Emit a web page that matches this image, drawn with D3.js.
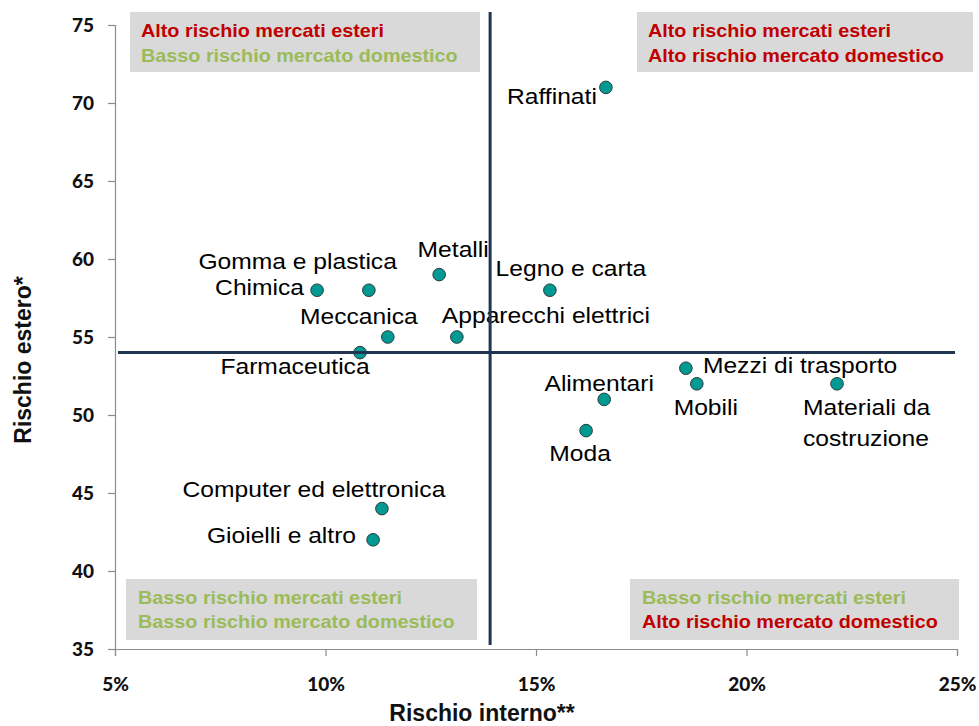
<!DOCTYPE html>
<html>
<head>
<meta charset="utf-8">
<script src="https://cdn.jsdelivr.net/npm/d3@7"></script>
<style>
  html, body { margin: 0; padding: 0; background: #ffffff; }
  svg { display: block; }
</style>
</head>
<body>
<svg id="chart" width="979" height="726"></svg>
<script>
// ---- Data ----
const sectors = ["Raffinati", "Metalli", "Gomma e plastica", "Chimica", "Legno e carta",
  "Meccanica", "Apparecchi elettrici", "Farmaceutica", "Mezzi di trasporto", "Mobili",
  "Materiali da costruzione", "Alimentari", "Moda", "Computer ed elettronica", "Gioielli e altro"];
const rischioInterno = [16.66, 12.70, 11.03, 9.80, 15.33, 11.48, 13.12, 10.82, 18.56, 18.82, 22.15, 16.62, 16.19, 11.34, 11.13];
const rischioEstero  = [71, 59, 58, 58, 58, 55, 55, 54, 53, 52, 52, 51, 49, 44, 42];
const xTicks = [5, 10, 15, 20, 25];
const yTicks = [35, 40, 45, 50, 55, 60, 65, 70, 75];
const mediaInterno = 13.91;
const mediaEstero = 54;
const quadrantTexts = [
  ["Alto rischio mercati esteri", "Basso rischio mercato domestico"],
  ["Alto rischio mercati esteri", "Alto rischio mercato domestico"],
  ["Basso rischio mercati esteri", "Basso rischio mercato domestico"],
  ["Basso rischio mercati esteri", "Alto rischio mercato domestico"]
];
const quadrantColors = [
  ["#c00000", "#9bbb59"],
  ["#c00000", "#c00000"],
  ["#9bbb59", "#9bbb59"],
  ["#9bbb59", "#c00000"]
];
const xTitle = "Rischio interno**";
const yTitle = "Rischio estero*";

// ---- Layout ----
const svg = d3.select("#chart");
const x = d3.scaleLinear().domain([5, 25]).range([115, 957]);
const y = d3.scaleLinear().domain([35, 75]).range([649, 25]);
const SX = 1.12;
const labelFont = "'Liberation Sans', Arial, sans-serif";

// label placement: [anchor, dx, dy]
const labelPlace = {
  "Raffinati": ["end", -9, 17],
  "Metalli": ["middle", 14, -18],
  "Gomma e plastica": ["end", 28, -21],
  "Chimica": ["end", -13, 5],
  "Legno e carta": ["middle", 21, -14],
  "Meccanica": ["middle", -29, -13],
  "Apparecchi elettrici": ["start", -15, -14],
  "Farmaceutica": ["middle", -65, 21],
  "Mezzi di trasporto": ["start", 17, 5],
  "Mobili": ["middle", 9, 31],
  "Materiali da costruzione": ["start", -34, 31],
  "Alimentari": ["middle", -5, -8],
  "Moda": ["middle", -6, 30],
  "Computer ed elettronica": ["middle", -68, -12],
  "Gioielli e altro": ["end", -17, 3]
};

// ---- Quadrant boxes ----
const boxes = [
  {x0: 130, x1: 480, y0: 12, y1: 72, tx: 141, ty: [37, 62]},
  {x0: 637, x1: 973, y0: 12, y1: 72, tx: 648, ty: [37, 62]},
  {x0: 126, x1: 477, y0: 579, y1: 640, tx: 138, ty: [604, 628]},
  {x0: 630, x1: 959, y0: 579, y1: 640, tx: 642, ty: [604, 628]}
];
boxes.forEach((b, i) => {
  svg.append("rect").attr("x", b.x0).attr("y", b.y0)
    .attr("width", b.x1 - b.x0).attr("height", b.y1 - b.y0)
    .attr("fill", "#d9d9d9");
  quadrantTexts[i].forEach((t, j) => {
    svg.append("text")
      .attr("transform", `translate(${b.tx},${b.ty[j]}) scale(1.1,1)`)
      .attr("font-family", labelFont).attr("font-weight", "bold")
      .attr("font-size", 18).attr("fill", quadrantColors[i][j])
      .text(t);
  });
});

// ---- Axes ----
const yAxis = d3.axisLeft(y).tickValues(yTicks).tickSize(7).tickPadding(14).tickFormat(d3.format("d"));
const gy = svg.append("g").attr("transform", `translate(${x(5)},0)`).call(yAxis);
const xAxis = d3.axisBottom(x).tickValues(xTicks).tickSize(7).tickPadding(22).tickFormat(d => d + "%");
const gx = svg.append("g").attr("transform", `translate(0,${y(35)})`).call(xAxis);
[gx, gy].forEach(g => {
  g.select(".domain").attr("stroke", "#8c8c8c").attr("stroke-width", 1.2);
  g.selectAll(".tick line").attr("stroke", "#8c8c8c").attr("stroke-width", 1.2);
  g.selectAll(".tick text").attr("font-family", "Lato, 'Liberation Sans', sans-serif")
    .attr("font-weight", "900").attr("font-size", 19).attr("fill", "#111");
});

svg.append("text")
  .attr("x", 482).attr("y", 721).attr("text-anchor", "middle")
  .attr("font-family", labelFont).attr("font-weight", "bold")
  .attr("font-size", 23).attr("fill", "#111").text(xTitle);
svg.append("text")
  .attr("transform", "translate(31,360) rotate(-90)").attr("text-anchor", "middle")
  .attr("font-family", labelFont).attr("font-weight", "bold")
  .attr("font-size", 23).attr("fill", "#111").text(yTitle);

// ---- Points ----
const data = sectors.map((s, i) => ({name: s, xi: rischioInterno[i], ye: rischioEstero[i]}));
svg.append("g").selectAll("circle").data(data).join("circle")
  .attr("cx", d => x(d.xi)).attr("cy", d => y(d.ye)).attr("r", 6.3)
  .attr("fill", "#009a93").attr("stroke", "#2b3b3b").attr("stroke-width", 1);

// ---- Labels ----
data.forEach(d => {
  const p = labelPlace[d.name];
  const px = x(d.xi) + p[1], py = y(d.ye) + p[2];
  const t = svg.append("text")
    .attr("transform", `translate(${px},${py}) scale(${SX},1)`)
    .attr("text-anchor", p[0])
    .attr("font-family", labelFont).attr("font-size", 22).attr("fill", "#000");
  if (d.name === "Materiali da costruzione") {
    t.append("tspan").attr("x", 0).attr("y", 0).text("Materiali da");
    t.append("tspan").attr("x", 0).attr("y", 31).text("costruzione");
  } else {
    t.text(d.name);
  }
});

// ---- Mean lines ----
svg.append("line")
  .attr("x1", x(5) + 3).attr("x2", x(25) - 2)
  .attr("y1", y(mediaEstero)).attr("y2", y(mediaEstero))
  .attr("stroke", "#1f3552").attr("stroke-width", 3);
svg.append("line")
  .attr("x1", x(mediaInterno)).attr("x2", x(mediaInterno))
  .attr("y1", y(75) - 13).attr("y2", y(35) - 4)
  .attr("stroke", "#1f3552").attr("stroke-width", 3);
</script>
</body>
</html>
